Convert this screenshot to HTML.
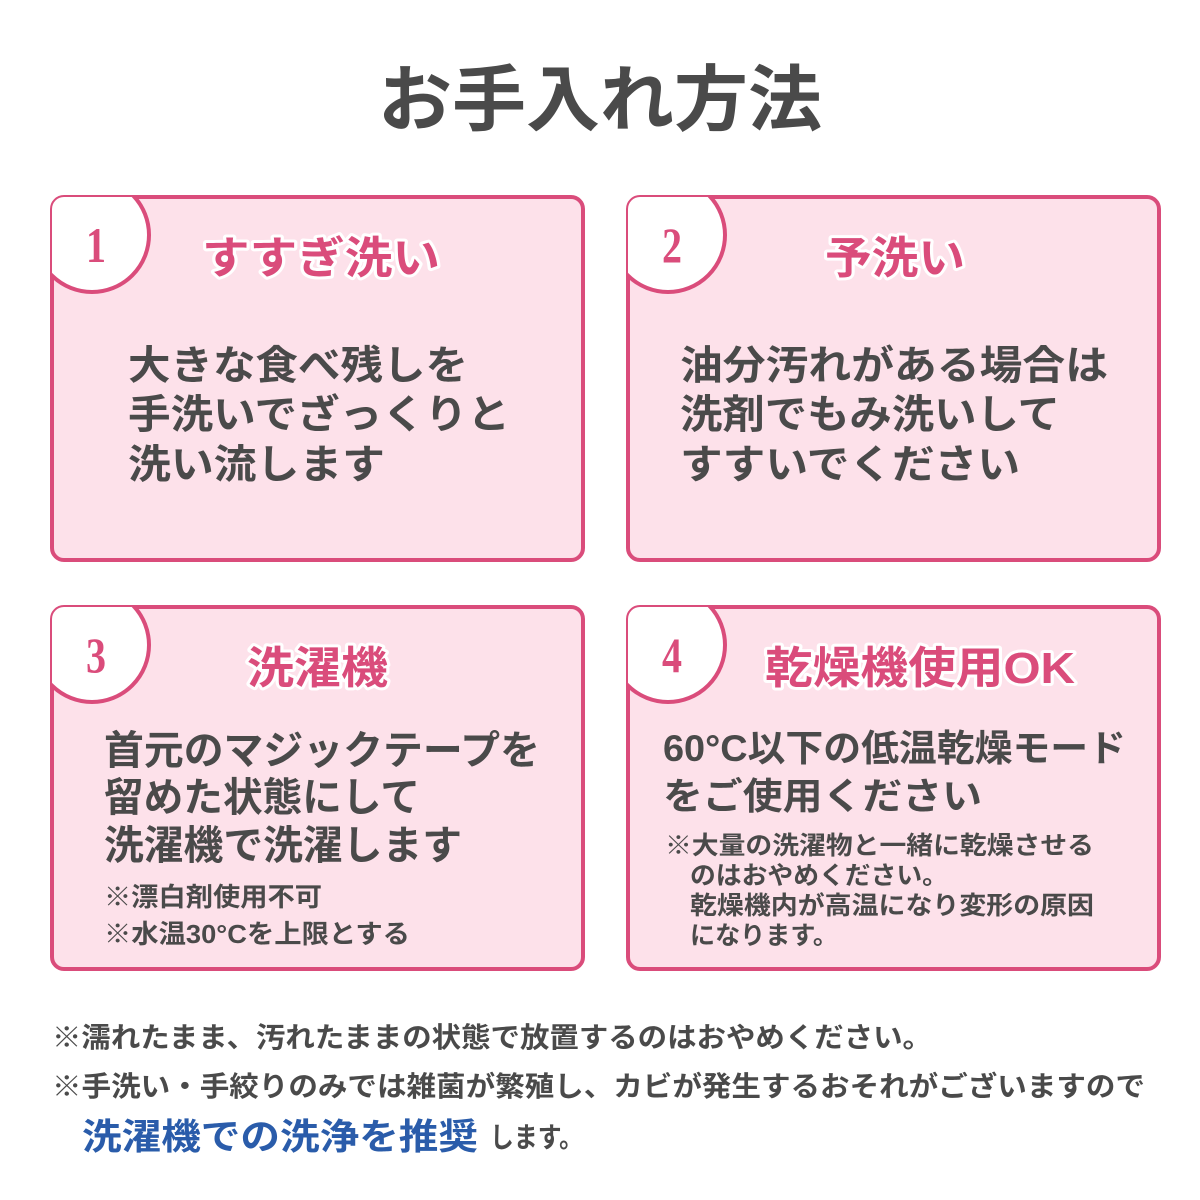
<!DOCTYPE html>
<html><head><meta charset="utf-8"><style>html,body{margin:0;padding:0;background:#fff}svg{display:block}
text{font-family:"Liberation Sans","Noto Sans CJK JP",sans-serif;font-weight:bold}
text.num{font-family:"Liberation Serif",serif;font-weight:bold}</style></head><body>
<svg width="1200" height="1200" viewBox="0 0 1200 1200" xmlns="http://www.w3.org/2000/svg">
<defs>
<clipPath id="c1"><rect x="52" y="197" width="531" height="363" rx="12"/></clipPath>
<clipPath id="c2"><rect x="628" y="197" width="531" height="363" rx="12"/></clipPath>
<clipPath id="c3"><rect x="52" y="607" width="531" height="362" rx="12"/></clipPath>
<clipPath id="c4"><rect x="628" y="607" width="531" height="362" rx="12"/></clipPath>
</defs>
<text x="600" y="125" font-size="72" fill="#4a4a4a" text-anchor="middle" textLength="444" lengthAdjust="spacingAndGlyphs">お手入れ方法</text>

<g fill="#fde1ea" stroke="#da4c7b" stroke-width="4">
<rect x="52" y="197" width="531" height="363" rx="12"/>
<rect x="628" y="197" width="531" height="363" rx="12"/>
<rect x="52" y="607" width="531" height="362" rx="12"/>
<rect x="628" y="607" width="531" height="362" rx="12"/>
</g>
<g fill="#fff" stroke="#da4c7b" stroke-width="4">
<circle cx="92" cy="235" r="57" clip-path="url(#c1)"/>
<circle cx="668" cy="235" r="57" clip-path="url(#c2)"/>
<circle cx="92" cy="645" r="57" clip-path="url(#c3)"/>
<circle cx="668" cy="645" r="57" clip-path="url(#c4)"/>
</g>
<g fill="#da4c7b" text-anchor="middle">
<text class="num" x="96" y="262" font-size="50" transform="translate(96 0) scale(0.8 1) translate(-96 0)">1</text>
<text class="num" x="672" y="262" font-size="50" transform="translate(672 0) scale(0.8 1) translate(-672 0)">2</text>
<text class="num" x="96" y="672" font-size="50" transform="translate(96 0) scale(0.8 1) translate(-96 0)">3</text>
<text class="num" x="672" y="672" font-size="50" transform="translate(672 0) scale(0.8 1) translate(-672 0)">4</text>
</g>
<g font-size="44" fill="#da4c7b" stroke="#fff" stroke-width="6" paint-order="stroke" stroke-linejoin="round">
<text x="202" y="273" textLength="238" lengthAdjust="spacingAndGlyphs">すすぎ洗い</text>
<text x="825" y="273" textLength="140" lengthAdjust="spacingAndGlyphs">予洗い</text>
<text x="247" y="683" textLength="141" lengthAdjust="spacingAndGlyphs">洗濯機</text>
<text x="765" y="683" textLength="310" lengthAdjust="spacingAndGlyphs">乾燥機使用OK</text>
</g>
<g fill="#4a4a4a" font-size="40">
<text x="128" y="379" textLength="340" lengthAdjust="spacingAndGlyphs">大きな食べ残しを</text>
<text x="128" y="428" textLength="382" lengthAdjust="spacingAndGlyphs">手洗いでざっくりと</text>
<text x="128" y="478" textLength="257" lengthAdjust="spacingAndGlyphs">洗い流します</text>
<text x="680" y="379" textLength="428" lengthAdjust="spacingAndGlyphs">油分汚れがある場合は</text>
<text x="680" y="428" textLength="380" lengthAdjust="spacingAndGlyphs">洗剤でもみ洗いして</text>
<text x="680" y="478" textLength="340" lengthAdjust="spacingAndGlyphs">すすいでください</text>
<text x="104" y="764" textLength="436" lengthAdjust="spacingAndGlyphs">首元のマジックテープを</text>
<text x="104" y="811" textLength="316" lengthAdjust="spacingAndGlyphs">留めた状態にして</text>
<text x="104" y="859" textLength="358" lengthAdjust="spacingAndGlyphs">洗濯機で洗濯します</text>
<text x="663" y="761" font-size="37" textLength="463" lengthAdjust="spacingAndGlyphs">60°C以下の低温乾燥モード</text>
<text x="663" y="809" font-size="37" textLength="319" lengthAdjust="spacingAndGlyphs">をご使用ください</text>
</g>
<g fill="#4a4a4a" font-size="26">
<text x="104" y="906" textLength="218" lengthAdjust="spacingAndGlyphs">※漂白剤使用不可</text>
<text x="104" y="943" textLength="306" lengthAdjust="spacingAndGlyphs">※水温30°Cを上限とする</text>
<text x="665" y="854" font-size="25" textLength="429" lengthAdjust="spacingAndGlyphs">※大量の洗濯物と一緒に乾燥させる</text>
<text x="690" y="884" font-size="25" textLength="258" lengthAdjust="spacingAndGlyphs">のはおやめください。</text>
<text x="690" y="914" font-size="25" textLength="404" lengthAdjust="spacingAndGlyphs">乾燥機内が高温になり変形の原因</text>
<text x="690" y="944" font-size="25" textLength="148" lengthAdjust="spacingAndGlyphs">になります。</text>
<text x="52" y="1047" font-size="28" textLength="880" lengthAdjust="spacingAndGlyphs">※濡れたまま、汚れたままの状態で放置するのはおやめください。</text>
<text x="52" y="1096" font-size="28" textLength="1093" lengthAdjust="spacingAndGlyphs">※手洗い・手絞りのみでは雑菌が繁殖し、カビが発生するおそれがございますので</text>
<text x="82" y="1149" font-size="36" fill="#2a5caa" textLength="396" lengthAdjust="spacingAndGlyphs">洗濯機での洗浄を推奨</text>
<text x="490" y="1147" font-size="28" textLength="93" lengthAdjust="spacingAndGlyphs">します。</text>
</g>
</svg>
</body></html>
